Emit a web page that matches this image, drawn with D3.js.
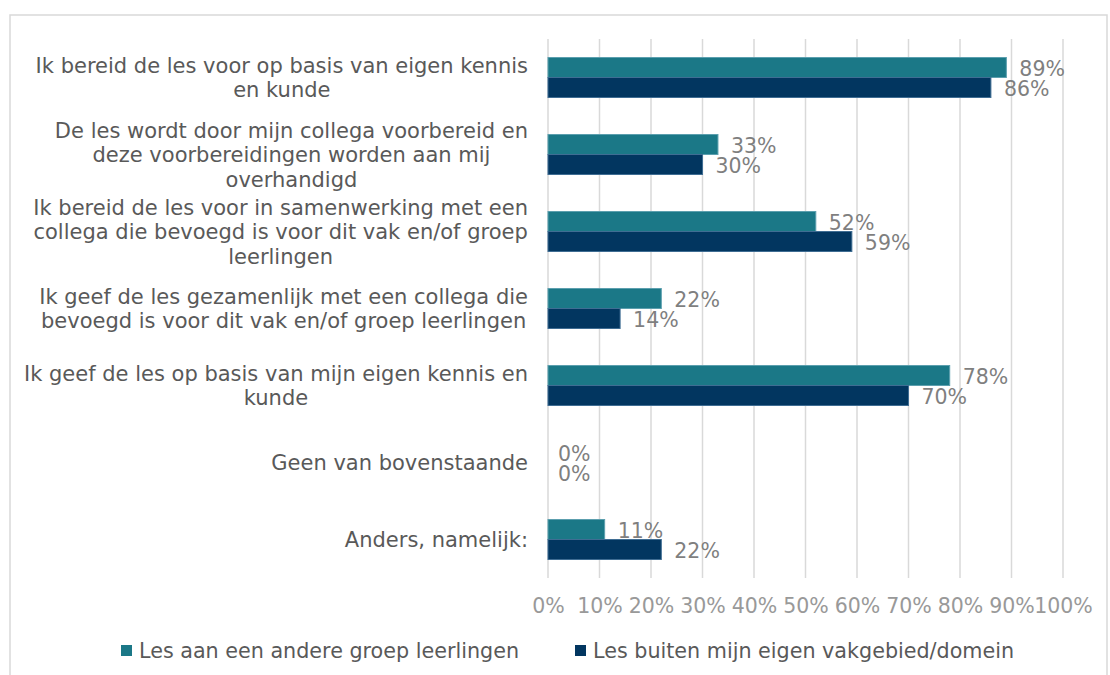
<!DOCTYPE html>
<html><head><meta charset="utf-8">
<script src="https://cdn.jsdelivr.net/npm/d3@7"></script>
<style>
html,body{margin:0;padding:0;background:#fff;}
svg{display:block;font-family:Verdana,"DejaVu Sans",sans-serif;}
</style></head>
<body>
<svg id="chart" width="1110" height="675"></svg>
<script>
const categories = [
  ["Ik bereid de les voor op basis van eigen kennis", "en kunde"],
  ["De les wordt door mijn collega voorbereid en", "deze voorbereidingen worden aan mij", "overhandigd"],
  ["Ik bereid de les voor in samenwerking met een", "collega die bevoegd is voor dit vak en/of groep", "leerlingen"],
  ["Ik geef de les gezamenlijk met een collega die", "bevoegd is voor dit vak en/of groep leerlingen"],
  ["Ik geef de les op basis van mijn eigen kennis en", "kunde"],
  ["Geen van bovenstaande"],
  ["Anders, namelijk:"]
];
const seriesNames = ["Les aan een andere groep leerlingen", "Les buiten mijn eigen vakgebied/domein"];
const andereGroep = [0.89, 0.33, 0.52, 0.22, 0.78, 0.00, 0.11];
const buitenVakgebied = [0.86, 0.30, 0.59, 0.14, 0.70, 0.00, 0.22];
const tickValues = [0, 0.1, 0.2, 0.3, 0.4, 0.5, 0.6, 0.7, 0.8, 0.9, 1.0];
const colors = ["#1b7887", "#023660"];

const svg = d3.select("#chart");
const FS = 20.5;
const FS_CAT = 21;
const FS_LEG = 20.7;

// outer border
svg.append("rect").attr("x", 10).attr("y", 15).attr("width", 1097).attr("height", 680)
  .attr("fill", "none").attr("stroke", "#d9d9d9").attr("stroke-width", 1.5);

const plotLeft = 548, plotRight = 1063, plotTop = 39, plotBottom = 578;
const x = d3.scaleLinear().domain([0, 1]).range([plotLeft, plotRight]);
const idx = categories.map((d, i) => i);
const y = d3.scaleBand().domain(idx).range([plotTop, plotBottom]).paddingInner(0).paddingOuter(0);
const barH = 20;

// gridlines
svg.append("g").selectAll("line").data(tickValues).join("line")
  .attr("x1", d => x(d)).attr("x2", d => x(d))
  .attr("y1", plotTop).attr("y2", plotBottom)
  .attr("stroke", "#d9d9d9").attr("stroke-width", 1.5);

// x axis tick labels
const xAxis = d3.axisBottom(x).tickValues(tickValues).tickFormat(d3.format(".0%")).tickSize(0).tickPadding(0);
const gx = svg.append("g").attr("transform", `translate(0,${plotBottom})`).call(xAxis);
gx.select(".domain").remove();
gx.selectAll("text").attr("font-size", FS).attr("fill", "#999999")
  .attr("font-family", 'Verdana,"DejaVu Sans",sans-serif').attr("dy", null).attr("y", 35);

// bars
const series = [andereGroep, buitenVakgebied];
series.forEach((vals, s) => {
  const g = svg.append("g");
  g.selectAll("rect").data(vals).join("rect")
    .attr("x", x(0))
    .attr("y", (d, i) => y(i) + y.bandwidth() / 2 - barH + s * barH)
    .attr("width", d => x(d) - x(0))
    .attr("height", barH)
    .attr("fill", colors[s])
    .attr("stroke", d => d > 0 ? (s === 0 ? "#5c9fae" : "#3f6d93") : "none")
    .attr("stroke-width", 1);
  g.selectAll("text").data(vals).join("text")
    .attr("x", d => x(d) + (d > 0 ? 13 : 10))
    .attr("y", (d, i) => y(i) + y.bandwidth() / 2 - barH / 2 + s * barH)
    .attr("dy", "0.42em")
    .attr("font-size", FS).attr("fill", "#7f7f7f")
    .text(d => d3.format(".0%")(d));
});

// category labels: block right-aligned to the axis, lines centered in block
const lineH = 24.5;
const labelRight = 528;
categories.forEach((lines, i) => {
  const g = svg.append("g");
  const texts = lines.map((ln, k) => g.append("text")
    .attr("font-size", FS_CAT).attr("fill", "#595959")
    .attr("text-anchor", "middle")
    .attr("dy", "0.36em")
    .attr("y", y(i) + y.bandwidth() / 2 + (k - (lines.length - 1) / 2) * lineH)
    .text(ln));
  const w = d3.max(texts, t => t.node().getComputedTextLength());
  texts.forEach(t => t.attr("x", labelRight - w / 2));
});

// legend
const legend = svg.append("g");
const legX = [121, 575];
seriesNames.forEach((name, s) => {
  legend.append("rect").attr("x", legX[s]).attr("y", 645).attr("width", 11).attr("height", 11).attr("fill", colors[s]);
  legend.append("text").attr("x", legX[s] + 18).attr("y", 651).attr("dy", "0.36em")
    .attr("font-size", FS_LEG).attr("fill", "#595959").text(name);
});
</script>
</body></html>
